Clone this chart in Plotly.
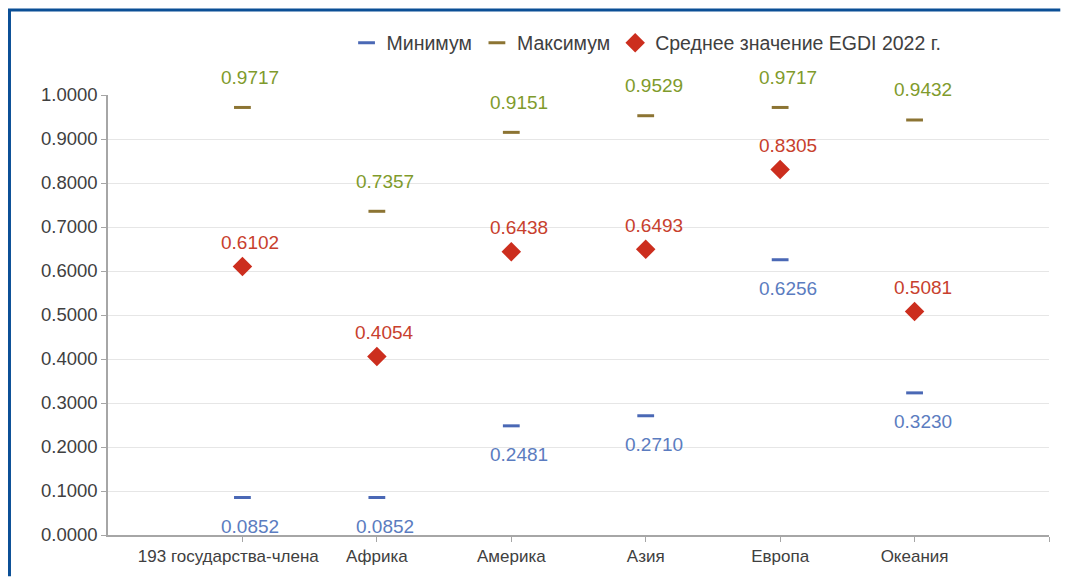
import plotly.graph_objects as go

categories = ["193 государства-члена", "Африка", "Америка", "Азия", "Европа", "Океания"]
min_vals = [0.0852, 0.0852, 0.2481, 0.2710, 0.6256, 0.3230]
max_vals = [0.9717, 0.7357, 0.9151, 0.9529, 0.9717, 0.9432]
avg_vals = [0.6102, 0.4054, 0.6438, 0.6493, 0.8305, 0.5081]
y_ticks = [0.0, 0.1, 0.2, 0.3, 0.4, 0.5, 0.6, 0.7, 0.8, 0.9, 1.0]

xpos = list(range(1, len(categories) + 1))
# first label is drawn slightly left of its tick in the original
tick_text = [categories[0] + "\u00a0" * 6] + categories[1:] + [""]

MIN_C = "#4a68b5"
MIN_T = "#5b7cc0"
MAX_C = "#8c7433"
MAX_T = "#7f9b2c"
AVG_C = "#cc2e1e"
AVG_T = "#c8402d"
FONT = "Liberation Sans, Arial, sans-serif"

fig = go.Figure()
fig.add_trace(go.Scatter(
    x=xpos, y=min_vals, mode="markers", name="Минимум",
    marker=dict(symbol="line-ew", size=12, line=dict(color=MIN_C, width=3), color=MIN_C),
    cliponaxis=False))
fig.add_trace(go.Scatter(
    x=xpos, y=max_vals, mode="markers", name="Максимум",
    marker=dict(symbol="line-ew", size=12, line=dict(color=MAX_C, width=3), color=MAX_C),
    cliponaxis=False))
fig.add_trace(go.Scatter(
    x=xpos, y=avg_vals, mode="markers", name="Среднее значение EGDI 2022 г.",
    marker=dict(symbol="diamond", size=15, color=AVG_C, line=dict(width=0)),
    cliponaxis=False))

annotations = []
for x, v in zip(xpos, max_vals):
    annotations.append(dict(x=x, y=v, text=f"{v:.4f}", showarrow=False, yshift=30, xshift=8,
                            font=dict(color=MAX_T, size=19, family=FONT)))
for x, v in zip(xpos, avg_vals):
    annotations.append(dict(x=x, y=v, text=f"{v:.4f}", showarrow=False, yshift=24, xshift=8,
                            font=dict(color=AVG_T, size=19, family=FONT)))
for x, v in zip(xpos, min_vals):
    annotations.append(dict(x=x, y=v, text=f"{v:.4f}", showarrow=False, yshift=-29, xshift=8,
                            font=dict(color=MIN_T, size=19, family=FONT)))

border = "#0b4f96"
shapes = [
    dict(type="path", xref="paper", yref="paper",
         path="M -0.1047,-0.0935 L -0.1047,1.1932 L 1.012,1.1932",
         fillcolor="rgba(0,0,0,0)", line=dict(color=border, width=3)),
]

fig.update_layout(
    width=1053, height=569,
    margin=dict(l=100, r=12, t=87, b=42),
    paper_bgcolor="white", plot_bgcolor="white",
    font=dict(family=FONT, color="#404040", size=17),
    showlegend=True,
    legend=dict(orientation="h", x=0.2535, y=1.118, xanchor="left", yanchor="middle",
                font=dict(size=19.5, color="#404040", family=FONT),
                itemwidth=30, tracegroupgap=0, bgcolor="rgba(0,0,0,0)"),
    xaxis=dict(range=[0, 7], tickvals=xpos + [7], ticktext=tick_text, tickangle=0,
               showgrid=False, zeroline=False, showline=True, linecolor="#a6a6a6", linewidth=1.5,
               ticks="outside", ticklen=5, tickcolor="#a6a6a6",
               tickfont=dict(size=17, color="#404040", family=FONT)),
    yaxis=dict(range=[0, 1.0], tickvals=y_ticks, tickformat=".4f",
               showgrid=True, gridcolor="#e6e6e6", gridwidth=1, zeroline=False,
               showline=True, linecolor="#a6a6a6", linewidth=1.5,
               ticks="outside", ticklen=5, tickcolor="#a6a6a6",
               tickfont=dict(size=18.5, color="#404040", family=FONT)),
    annotations=annotations,
    shapes=shapes,
)

fig.write_html("out.html")
